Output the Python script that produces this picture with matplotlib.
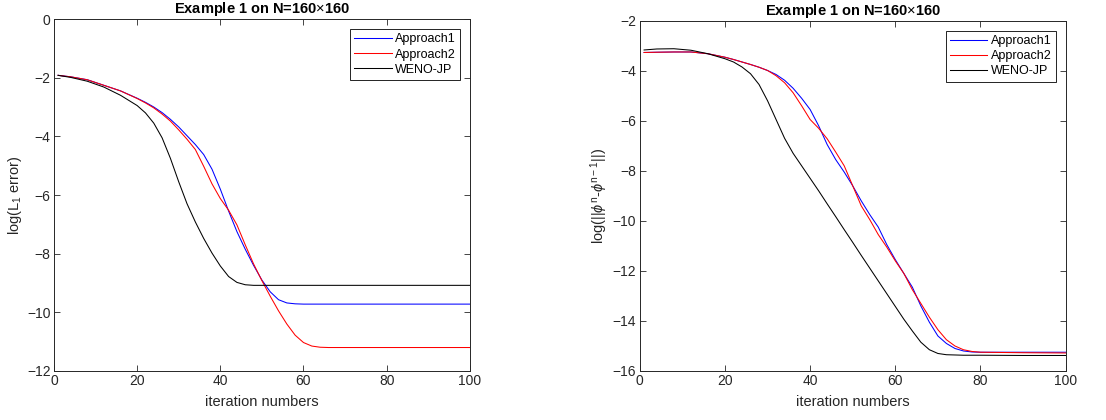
import matplotlib
matplotlib.use('Agg')
import matplotlib.pyplot as plt

plt.rcParams['font.family'] = ['Liberation Sans', 'DejaVu Sans']
plt.rcParams['mathtext.fontset'] = 'custom'
plt.rcParams['mathtext.rm'] = 'Liberation Sans'
plt.rcParams['mathtext.it'] = 'Liberation Sans:italic'

iters = [1, 4, 8, 12, 16, 20, 22, 24, 26, 28, 30, 32, 34, 36, 38, 40, 42, 44,
         46, 48, 50, 52, 54, 56, 58, 60, 62, 64, 66, 68, 70, 72, 74, 76, 78,
         80, 90, 100]

# left panel: log(L1 error)
l1_app1 = [-1.92, -1.97, -2.07, -2.26, -2.45, -2.70, -2.84, -3.00, -3.19, -3.42,
           -3.68, -3.98, -4.28, -4.62, -5.12, -5.80, -6.55, -7.25, -7.85, -8.40,
           -8.90, -9.30, -9.57, -9.68, -9.71, -9.72, -9.72, -9.72, -9.72, -9.72,
           -9.72, -9.72, -9.72, -9.72, -9.72, -9.72, -9.72, -9.72]
l1_app2 = [-1.92, -1.97, -2.07, -2.26, -2.45, -2.71, -2.86, -3.03, -3.24, -3.48,
           -3.78, -4.10, -4.45, -5.02, -5.62, -6.12, -6.52, -7.02, -7.70, -8.35,
           -8.92, -9.45, -9.95, -10.40, -10.78, -11.03, -11.15, -11.19, -11.20,
           -11.20, -11.20, -11.20, -11.20, -11.20, -11.20, -11.20, -11.20, -11.20]
l1_weno = [-1.92, -1.99, -2.12, -2.32, -2.60, -2.95, -3.20, -3.55, -4.05, -4.75,
           -5.55, -6.30, -6.92, -7.48, -7.98, -8.42, -8.78, -8.98, -9.06, -9.08,
           -9.08, -9.08, -9.08, -9.08, -9.08, -9.08, -9.08, -9.08, -9.08, -9.08,
           -9.08, -9.08, -9.08, -9.08, -9.08, -9.08, -9.08, -9.08]

# right panel: log(||phi^n - phi^(n-1)||)
res_app1 = [-3.27, -3.26, -3.25, -3.25, -3.32, -3.46, -3.55, -3.65, -3.75, -3.86,
            -3.99, -4.15, -4.38, -4.70, -5.10, -5.55, -6.20, -6.95, -7.55, -8.05,
            -8.60, -9.20, -9.75, -10.25, -10.95, -11.55, -12.10, -12.65, -13.40,
            -14.05, -14.60, -14.90, -15.10, -15.20, -15.24, -15.25, -15.25, -15.25]
res_app2 = [-3.27, -3.26, -3.25, -3.25, -3.32, -3.46, -3.55, -3.65, -3.75, -3.86,
            -3.99, -4.20, -4.48, -4.88, -5.40, -5.95, -6.30, -6.72, -7.25, -7.80,
            -8.60, -9.40, -9.95, -10.55, -11.05, -11.60, -12.10, -12.75, -13.30,
            -13.85, -14.35, -14.75, -15.00, -15.15, -15.22, -15.25, -15.27, -15.28]
res_weno = [-3.17, -3.13, -3.12, -3.18, -3.32, -3.52, -3.65, -3.85, -4.12, -4.55,
            -5.20, -5.95, -6.70, -7.30, -7.80, -8.30, -8.80, -9.32, -9.83, -10.35,
            -10.86, -11.38, -11.89, -12.40, -12.91, -13.42, -13.93, -14.40, -14.85,
            -15.15, -15.30, -15.35, -15.36, -15.37, -15.37, -15.37, -15.38, -15.38]

labels = ['Approach1', 'Approach2', 'WENO-JP']
title = 'Example 1 on N=160$\\times$160'
gray = '#262626'

fig = plt.figure(figsize=(11.06, 4.2), dpi=100)
ax1 = fig.add_axes([0.0488, 0.1167, 0.376, 0.838])
ax2 = fig.add_axes([0.5785, 0.1167, 0.385, 0.834])

panels = [
    (ax1, [l1_app1, l1_app2, l1_weno], (-12, 0), 'log(L$_1$ error)', 2),
    (ax2, [res_app1, res_app2, res_weno], (-16, -2),
     'log(||$\\phi^{\\mathrm{n}}$-$\\phi^{\\mathrm{n}-1}$||)', 2),
]

for ax, series, ylim, ylab, lpad in panels:
    for ys, c, lab in zip(series, ['#0000ff', '#ff0000', 'black'], labels):
        ax.plot(iters, ys, color=c, lw=0.75, label=lab)
    ax.set_xlim(0, 100)
    ax.set_ylim(*ylim)
    ax.set_xticks(range(0, 101, 20))
    ax.set_yticks(range(ylim[0], ylim[1] + 1, 2))
    ax.tick_params(direction='in', top=True, right=True, labelsize=10,
                   colors=gray, length=4, width=0.6, pad=2.5)
    for sp in ax.spines.values():
        sp.set_color(gray)
        sp.set_linewidth(0.7)
    ax.set_xlabel('iteration numbers', fontsize=10.5, color=gray, labelpad=5)
    ax.set_ylabel(ylab, fontsize=10.5, color=gray, labelpad=lpad)
    ax.set_title(title, fontsize=10.5, fontweight='bold', pad=4)
    leg = ax.legend(loc='upper right', fontsize=9, handlelength=3.0,
                    fancybox=False, framealpha=1, edgecolor='black',
                    borderpad=0.35, labelspacing=0.25, handletextpad=0.25,
                    borderaxespad=0.8)
    leg.get_frame().set_linewidth(0.6)

fig.savefig('out.png', dpi=100)
